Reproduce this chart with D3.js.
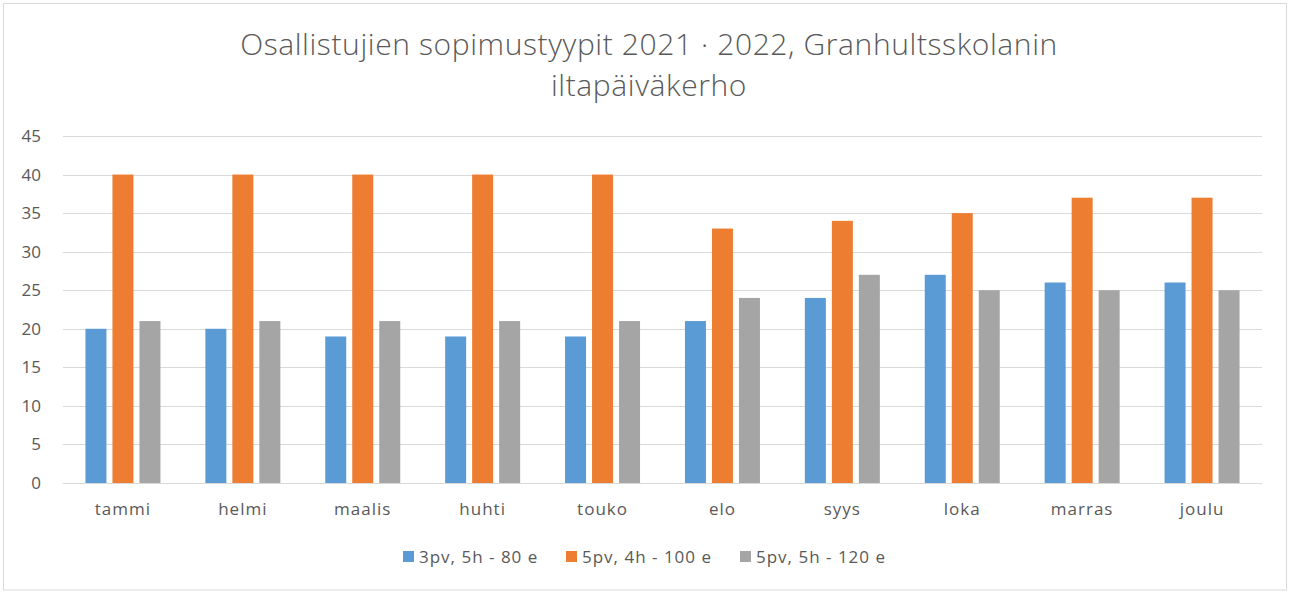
<!DOCTYPE html>
<html>
<head>
<meta charset="utf-8">
<script src="https://cdn.jsdelivr.net/npm/d3@7"></script>
<style>
  body { margin: 0; background: #fff; }
  svg { font-family: "Open Sans", sans-serif; }
  .grid line { stroke: #d9d9d9; stroke-width: 1; }
  .tick-label { fill: #595959; font-size: 17px; }
  .spaced { letter-spacing: 1px; }
</style>
</head>
<body>
<svg id="chart"></svg>
<script>
// Chart data
const months = ['tammi', 'helmi', 'maalis', 'huhti', 'touko', 'elo', 'syys', 'loka', 'marras', 'joulu'];
const seriesNames = ['3pv, 5h - 80 e', '5pv, 4h - 100 e', '5pv, 5h - 120 e'];
const seriesColors = ['#5b9bd5', '#ed7d31', '#a5a5a5'];
const pv3h5 = [20, 20, 19, 19, 19, 21, 24, 27, 26, 26];
const pv5h4 = [40, 40, 40, 40, 40, 33, 34, 35, 37, 37];
const pv5h5 = [21, 21, 21, 21, 21, 24, 27, 25, 25, 25];
const yTicks = [0, 5, 10, 15, 20, 25, 30, 35, 40, 45];

const width = 1289, height = 593;
const margin = { top: 136, right: 27, bottom: 110, left: 63 };
const innerW = width - margin.left - margin.right;
const innerH = height - margin.top - margin.bottom;

const svg = d3.select('#chart')
  .attr('width', width)
  .attr('height', height);

// outer frame
svg.append('rect')
  .attr('x', 3.5).attr('y', 3.5)
  .attr('width', width - 2.5 - 3.5).attr('height', height - 3.5 - 3)
  .attr('fill', 'none')
  .attr('stroke', '#d9d9d9');

// title
const title = svg.append('text')
  .attr('text-anchor', 'middle')
  .attr('fill', '#595959')
  .style('font-size', '30px')
  .style('letter-spacing', '0.6px')
  .style('font-weight', 300);
title.append('tspan').attr('x', 649).attr('y', 55).text('Osallistujien sopimustyypit 2021 · 2022, Granhultsskolanin');
title.append('tspan').attr('x', 649).attr('y', 96).text('iltapäiväkerho');

const chart = svg.append('g')
  .attr('transform', `translate(${margin.left},${margin.top})`);

const x = d3.scaleBand()
  .domain(months)
  .range([0, innerW]);

const y = d3.scaleLinear()
  .domain([0, 45])
  .range([innerH, 0]);

// gridlines
chart.append('g')
  .attr('class', 'grid')
  .selectAll('line')
  .data(yTicks)
  .join('line')
  .attr('x1', 0)
  .attr('x2', innerW)
  .attr('y1', d => Math.round(y(d)) + 0.5)
  .attr('y2', d => Math.round(y(d)) + 0.5);

// y labels
chart.append('g')
  .selectAll('text')
  .data(yTicks)
  .join('text')
  .attr('class', 'tick-label')
  .attr('x', -22)
  .attr('y', d => y(d))
  .attr('dy', '0.35em')
  .attr('text-anchor', 'end')
  .text(d => d);

// bars
const seriesData = [pv3h5, pv5h4, pv5h5];
const barW = 21;
const step = 27;

seriesData.forEach((values, si) => {
  chart.append('g')
    .attr('fill', seriesColors[si])
    .selectAll('rect')
    .data(values)
    .join('rect')
    .attr('x', (d, i) => x(months[i]) + x.bandwidth() / 2 + (si - 1) * step - barW / 2)
    .attr('y', d => y(d))
    .attr('width', barW)
    .attr('height', d => innerH - y(d));
});

// x labels
chart.append('g')
  .selectAll('text')
  .data(months)
  .join('text')
  .attr('class', 'tick-label spaced')
  .attr('x', d => x(d) + x.bandwidth() / 2)
  .attr('y', innerH + 32)
  .attr('text-anchor', 'middle')
  .text(d => d);

// legend
const legendX = [403, 566, 740];
const legend = svg.append('g');
seriesNames.forEach((name, i) => {
  legend.append('rect')
    .attr('x', legendX[i])
    .attr('y', 551)
    .attr('width', 11)
    .attr('height', 11)
    .attr('fill', seriesColors[i]);
  legend.append('text')
    .attr('class', 'tick-label spaced')
    .attr('x', legendX[i] + 16)
    .attr('y', 563)
    .text(name);
});
</script>
</body>
</html>
